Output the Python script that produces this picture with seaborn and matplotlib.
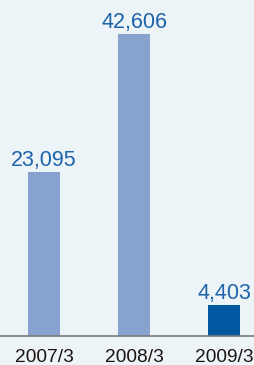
import matplotlib
matplotlib.use("Agg")
import matplotlib.pyplot as plt
import seaborn as sns
import pandas as pd

categories = ["2007/3", "2008/3", "2009/3"]
values = [23095, 42606, 4403]
labels = ["23,095", "42,606", "4,403"]

bg = "#EDF4F8"
bar_colors = ["#87A2CF", "#87A2CF", "#0058A0"]
num_color = "#1E64AA"

sns.set_theme(style="white")
plt.rcParams["font.family"] = ["Liberation Sans", "DejaVu Sans"]

df = pd.DataFrame({"year": categories, "value": values})

fig = plt.figure(figsize=(2.54, 3.65), dpi=100, facecolor=bg)
ax = fig.add_axes([0, 29 / 365, 1, 336 / 365])
ax.set_facecolor(bg)

sns.barplot(data=df, x="year", y="value", hue="year", palette=bar_colors,
            width=32 / 90, legend=False, ax=ax, saturation=1, linewidth=0)

ax.set_xlim(-44 / 90, 2 + 30 / 90)
ax.set_ylim(0, 42606 * 336 / 302)

for i, (v, t) in enumerate(zip(values, labels)):
    ax.annotate(t, (i, v), xytext=(0, 4.5), textcoords="offset points",
                ha="center", va="baseline", fontsize=15.5, color=num_color)

for s in ["top", "left", "right"]:
    ax.spines[s].set_visible(False)
ax.spines["bottom"].set_color("#7A7A7A")
ax.spines["bottom"].set_linewidth(1.2)
ax.set_yticks([])
ax.set_xlabel("")
ax.set_ylabel("")
ax.tick_params(axis="x", length=0, pad=9.5, labelsize=13.8, labelcolor="#1A1311")
for lab in ax.get_xticklabels():
    lab.set_fontweight("medium")

fig.savefig("out.png", dpi=100, facecolor=bg)
